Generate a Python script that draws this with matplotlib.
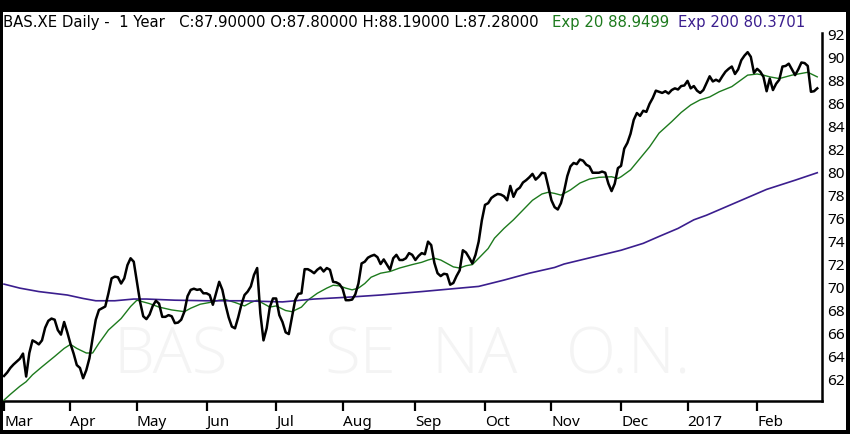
import numpy as np
import pandas as pd
import matplotlib
matplotlib.use('Agg')
import matplotlib.pyplot as plt
from matplotlib.patches import Rectangle

# trading calendar (Xetra), Mar 2016 - Feb 2017
holidays = ['2016-03-25', '2016-03-28', '2016-12-26']
days = pd.bdate_range('2016-03-01', '2017-02-28')
days = days[~days.isin(pd.to_datetime(holidays))]

close = [62.3, 62.6, 63.0, 63.3, 63.55, 63.8, 64.25, 62.25, 64.3, 65.4,
         65.25, 65.05, 65.4, 66.5, 67.1, 67.3, 67.2, 66.3, 65.9, 67.0,
         66.1, 65.1, 64.25, 63.25, 63.0, 62.1, 62.8, 63.85, 65.6, 67.2,
         68.05, 68.2, 68.35, 69.5, 70.8, 70.95, 70.9, 70.35, 70.8, 71.95,
         72.55, 72.25, 70.5, 68.75, 67.5, 67.25, 67.65, 68.4, 68.85, 68.6,
         67.45, 67.45, 67.6, 67.5, 66.9, 66.95, 67.2, 67.9, 69.25, 69.8,
         69.9, 69.8, 69.85, 69.5, 69.5, 69.35, 68.5, 69.5, 70.5, 69.8,
         68.5, 67.4, 66.6, 66.45, 67.4, 68.5, 69.35, 69.65, 70.1, 71.1,
         71.7, 67.75, 65.4, 66.45, 68.3, 69.05, 69.05, 67.6, 67.0, 66.1,
         65.95, 67.45, 68.9, 69.45, 69.5, 71.6, 71.6, 71.45, 71.25, 71.55,
         71.75, 71.4, 71.7, 71.55, 70.5, 70.45, 70.3, 69.9, 68.9, 68.9,
         68.95, 69.4, 70.35, 72.1, 72.25, 72.6, 72.75, 72.85, 72.65, 72.05,
         72.45, 72.0, 71.55, 72.55, 72.85, 72.4, 72.4, 72.55, 73.0, 72.85,
         72.4, 72.75, 73.0, 72.9, 74.0, 73.7, 72.15, 71.25, 71.0, 71.2,
         71.15, 70.25, 70.4, 71.0, 71.5, 73.25, 73.05, 72.6, 72.1, 72.85,
         74.0, 75.85, 77.2, 77.35, 77.8, 78.0, 78.15, 78.1, 77.95, 77.6,
         78.85, 77.9, 78.5, 78.7, 79.15, 79.35, 79.6, 79.9, 79.4, 79.65,
         80.0, 79.95, 78.8, 77.6, 77.0, 76.8, 77.35, 78.4, 79.7, 80.55,
         80.85, 80.75, 81.15, 81.05, 80.7, 80.55, 80.0, 80.0, 80.0, 80.1,
         80.0, 79.05, 78.4, 79.05, 80.4, 80.6, 82.1, 82.6, 83.4, 84.6,
         85.2, 84.95, 85.4, 85.3, 86.0, 86.5, 87.15, 87.05, 86.95, 87.1,
         86.9, 87.2, 87.35, 87.25, 87.55, 87.6, 88.0, 87.35, 87.55, 87.15,
         86.95, 87.2, 87.8, 88.4, 87.95, 88.1, 87.95, 88.4, 88.8, 89.05,
         89.25, 88.6, 89.0, 89.8, 90.2, 90.5, 90.1, 88.7, 89.05, 88.8,
         88.35, 87.1, 88.2, 87.2, 87.75, 88.1, 89.25, 89.3, 89.5, 89.0,
         88.5, 89.0, 89.6, 89.55, 89.3, 87.05, 87.1, 87.35]

# moving averages, read at trading-session numbers
ema20_day = [0, 2, 5, 7, 9, 12, 16, 19, 21, 23, 26, 28, 30, 33, 37, 40, 42, 44,
             46, 49, 53, 57, 59, 62, 65, 68, 70, 73, 76, 78, 80, 82, 84, 86,
             89, 91, 94, 96, 99, 102, 104, 106, 108, 110, 112, 114, 116, 119,
             122, 125, 129, 132, 134, 136, 138, 140, 142, 144, 146, 148, 150,
             153, 155, 158, 161, 164, 167, 170, 172, 174, 176, 179, 182, 185,
             188, 192, 194, 195, 198, 201, 204, 207, 211, 214, 217, 220, 223,
             226, 230, 233, 235, 238, 240, 242, 245, 249, 252, 254, 257]
ema20 = [60.2, 60.7, 61.4, 61.8, 62.4, 63.1, 64.0, 64.7, 65.05, 64.7, 64.3, 64.3,
         65.15, 66.3, 67.3, 68.35, 68.9, 68.75, 68.6, 68.3, 68.05, 67.9, 68.2,
         68.55, 68.7, 68.9, 68.95, 68.7, 68.4, 68.7, 68.9, 68.6, 68.3, 68.4,
         68.0, 67.9, 68.3, 68.9, 69.5, 69.95, 70.2, 70.15, 69.95, 69.8, 69.95,
         70.35, 70.9, 71.25, 71.4, 71.7, 72.0, 72.2, 72.4, 72.55, 72.4, 72.1,
         71.8, 71.7, 71.9, 72.0, 72.55, 73.4, 74.3, 75.15, 75.9, 76.75, 77.6,
         78.15, 78.3, 78.2, 78.05, 78.5, 79.1, 79.45, 79.6, 79.65, 79.5, 79.65,
         80.25, 81.25, 82.25, 83.45, 84.45, 85.25, 85.9, 86.35, 86.6, 87.05,
         87.5, 88.1, 88.5, 88.6, 88.5, 88.35, 88.2, 88.5, 88.65, 88.75, 88.35]

ema200_day = [0, 5, 11, 20, 25, 29, 35, 41, 45, 54, 64, 75, 88, 98, 108, 119,
              132, 142, 150, 158, 166, 174, 177, 195, 202, 207, 213, 218, 222,
              241, 250, 257]
ema200 = [70.3, 69.95, 69.65, 69.35, 69.05, 68.85, 68.85, 69.0, 69.0, 68.9,
          68.85, 68.85, 68.75, 69.0, 69.15, 69.35, 69.65, 69.9, 70.1, 70.65,
          71.25, 71.75, 72.05, 73.25, 73.85, 74.45, 75.15, 75.9, 76.3, 78.55,
          79.35, 80.0]

yticks = list(range(62, 93, 2))

hdr_main = 'BAS.XE Daily -  1 Year   C:87.90000 O:87.80000 H:88.19000 L:87.28000'
hdr_ema20 = 'Exp 20 88.9499'
hdr_ema200 = 'Exp 200 80.3701'
watermark = ['BAS', 'SE', 'NA', 'O.N.']

green = '#1d7a1d'
purple = '#3b1e8e'

plt.rcParams['font.family'] = ['Noto Sans', 'DejaVu Sans']

W, H = 850, 434
fig = plt.figure(figsize=(W/100, H/100), dpi=100)
fig.patch.set_facecolor('black')
fig.add_artist(Rectangle((2.5/W, 4/H), (846-2.5)/W, (422-4)/H,
                         transform=fig.transFigure, fc='white', ec='none', zorder=-10))

ax = fig.add_axes([3/W, (H-401)/H, 819/W, 368/H])
ax.set_facecolor('none')

x = np.arange(len(close))
ax.plot(x, close, c='black', lw=1.8, zorder=4)
ax.plot(ema20_day, ema20, c=green, lw=1.0, zorder=3)
ax.plot(ema200_day, ema200, c=purple, lw=1.2, zorder=3)

# faint instrument name behind the lines
for word, cx in zip(watermark, [171, 360, 475, 629]):
    ax.text((cx - 3)/819, 0.076, word, transform=ax.transAxes, ha='center', va='baseline',
            fontsize=47, color='#f4f4f4', zorder=1, family=['Open Sans', 'DejaVu Sans'],
            fontweight='light')

ax.set_xlim(-0.32, 258.5)
ax.set_ylim(60.12, 92.17)

# month ticks at first session of each month
first = [i for i in range(len(days)) if i == 0 or days[i].month != days[i-1].month]
labels = [days[i].strftime('%Y') if days[i].month == 1 else days[i].strftime('%b') for i in first]
ax.set_xticks(first)
ax.set_xticklabels(labels, ha='left')
ax.tick_params(axis='x', length=7, width=1.6, color='black', pad=3, labelsize=11)

ax.yaxis.tick_right()
ax.set_yticks(yticks)
ax.tick_params(axis='y', length=0, pad=4, labelsize=11)

for s in ['top', 'left']:
    ax.spines[s].set_visible(False)
for s in ['right', 'bottom']:
    ax.spines[s].set_linewidth(1.8)

yh = 1 - 23/H
hdr_font = dict(fontsize=10.7, va='center', ha='left', family=['DejaVu Sans'])
fig.text(3/W, yh, hdr_main, color='black', **hdr_font)
fig.text(552/W, yh, hdr_ema20, color=green, **hdr_font)
fig.text(678/W, yh, hdr_ema200, color=purple, **hdr_font)

fig.savefig('out.png', dpi=100, facecolor=fig.get_facecolor())
